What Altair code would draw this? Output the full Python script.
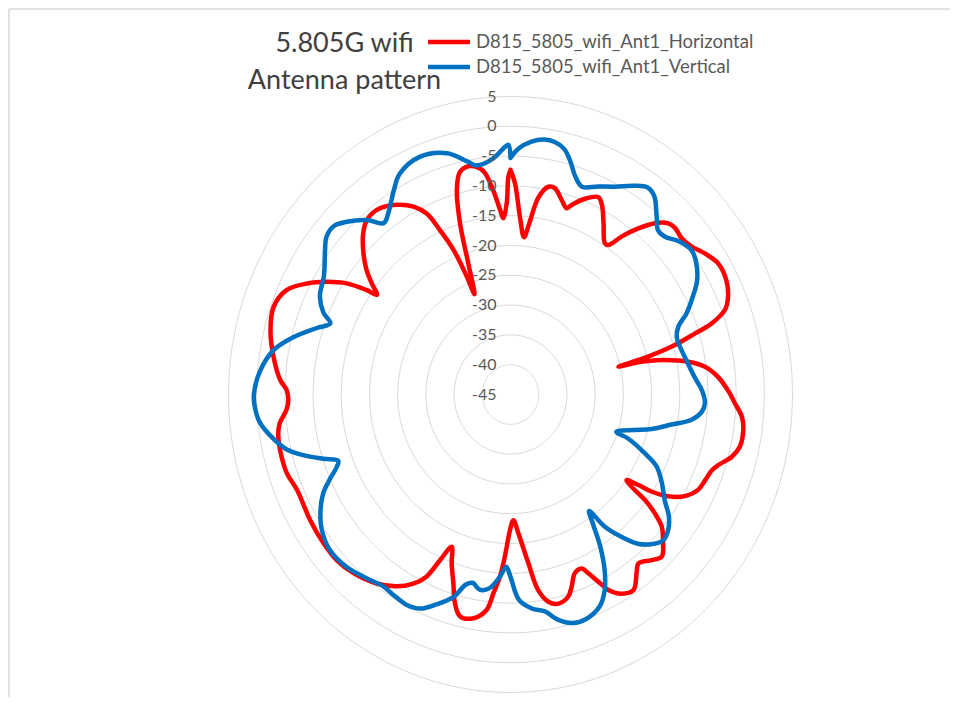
import altair as alt
import pandas as pd

# ---------------- data ----------------
title_lines = ["5.805G wifi", "Antenna pattern"]
series_names = ["D815_5805_wifi_Ant1_Horizontal", "D815_5805_wifi_Ant1_Vertical"]
series_colors = ["#FF0000", "#0070C0"]

ring_values = [5, 0, -5, -10, -15, -20, -25, -30, -35, -40, -45]
center_value = -45

# Horizontal (red): angle in degrees clockwise from top, level in dB
h_angle = [0, 1.3, 3.2, 5.2, 6.6, 8.5, 10.9, 12.8, 15.5, 17.7,
           18.8, 21.9, 25.2, 27, 29.9, 33.4, 34.7, 36.6, 39.1, 41.7,
           44.3, 46.3, 49.2, 52.3, 55.5, 59.2, 63.4, 67, 69.5, 71.5,
           72.6, 74.3, 75.4, 76.3, 76.6, 77.8, 80.1, 82.3, 85.4, 89.3,
           92.1, 95.2, 98.2, 102.1, 104.9, 107.8, 109.6, 112.6, 115.7, 118.9,
           121.4, 123.1, 123.8, 124.9, 125.8, 126.6, 127.9, 129.6, 132.7, 135.4,
           138, 141.3, 143.3, 146.4, 149.5, 152.1, 153.1, 155.3, 156.7, 159.2,
           161.4, 163.2, 166.4, 169.1, 171.5, 173.6, 176.6, 178.6, 180.2, 182.1,
           183.5, 185.2, 186.7, 189.9, 193.5, 195.7, 197.7, 200.2, 202.2, 204.2,
           206, 208.5, 212.1, 216.8, 222.9, 227.9, 233, 239.3, 247.1, 251.6,
           257.2, 261, 263.3, 266.3, 268.7, 271.1, 273.4, 278.6, 284.2, 289.3,
           293.8, 297.3, 300.1, 302.7, 304.5, 305.2, 307.2, 309.3, 312.8, 316,
           319, 322.6, 327.6, 331.4, 333.9, 335.6, 337.4, 338.6, 339.2, 341.2,
           342.7, 344.5, 346.5, 349.4, 351.9, 353.1, 354.9, 356.6, 357.5, 358.8,
           359.4]
h_db = [-7.3, -9.6, -15.1, -18.5, -16.1, -11.6, -9.5, -9.5, -11.1, -12.2,
        -11.4, -9.6, -8.4, -9.3, -11.9, -14.6, -14.5, -12.0, -9.1, -6.5,
        -4.9, -4.6, -4.9, -4.4, -3.2, -2.1, -2.2, -3.1, -4.4, -7.4,
        -10.7, -15.3, -19.8, -25.3, -21.7, -17.6, -13.0, -10.2, -8.1, -6.3,
        -5.2, -3.8, -3.3, -3.4, -4.4, -6.3, -7.1, -7.6, -8.1, -9.7,
        -12.2, -15.2, -17.7, -19.9, -18.5, -15.3, -12.6, -10.2, -8.2, -6.8,
        -7.6, -8.7, -7.6, -5.6, -6.2, -7.9, -9.2, -12.0, -13.2, -12.9,
        -11.0, -9.6, -8.9, -9.6, -11.8, -16.5, -21.7, -23.9, -22.3, -17.8,
        -14.4, -11.5, -8.6, -6.9, -6.7, -8.6, -11.7, -14.8, -17.4, -14.5,
        -11.0, -8.9, -7.0, -5.4, -4.1, -3.5, -3.5, -3.7, -3.9, -3.2,
        -3.1, -3.3, -3.8, -5.2, -5.6, -5.3, -4.1, -2.5, -1.1, -0.5,
        -1.6, -4.4, -7.3, -10.5, -14.1, -16.0, -14.1, -12.0, -9.4, -7.4,
        -6.2, -6.0, -7.3, -9.1, -11.2, -14.7, -18.7, -23.7, -27.0, -21.8,
        -14.9, -9.4, -6.6, -6.0, -6.7, -7.6, -10.6, -14.0, -15.4, -12.9,
        -8.5]

# Vertical (blue)
v_angle = [0, 2, 5, 8, 10.5, 13, 15, 17.5, 20, 24,
           28, 32, 35, 37.5, 41, 43.5, 46, 49, 53, 56,
           60, 63, 66.5, 69, 72, 75, 79.5, 85, 89, 92.5,
           95, 97.5, 100, 103, 105.5, 108.5, 109.5, 112.5, 115, 119,
           123, 126, 129, 132, 135, 138, 140.5, 143, 144.5, 146,
           148, 150.5, 153, 156, 160.5, 164, 167.5, 170.5, 174, 177.5,
           180, 181.5, 183.5, 186.5, 189.5, 192, 194, 196.5, 200.5, 204,
           207.5, 212, 215, 219.5, 225, 231, 236, 240, 243.5, 246,
           248.5, 250, 252, 254.5, 257, 260, 264, 267.5, 270, 275,
           280, 284, 288, 290.5, 292.5, 296, 301, 306.5, 309, 312,
           315, 319, 322, 325, 329, 332, 338, 344.5, 349, 351,
           355.5, 358.7, 359.5]
v_db = [-5.3, -3.7, -2.4, -1.8, -1.9, -2.7, -4.3, -6.7, -7.9, -6.8,
        -5.5, -3.7, -2.6, -3.1, -5.5, -7.0, -6.9, -5.7, -4.8, -5.3,
        -6.8, -8.7, -11.0, -13.1, -14.0, -13.9, -13.3, -12.2, -11.0, -10.5,
        -11.0, -12.6, -16.0, -19.3, -22.7, -25.2, -22.9, -19.2, -16.4, -14.3,
        -12.4, -10.3, -9.0, -8.5, -9.5, -11.3, -14.0, -17.2, -21.0, -18.9,
        -15.0, -11.1, -8.2, -6.1, -5.0, -5.1, -6.3, -8.1, -8.9, -10.5,
        -14.4, -16.1, -14.4, -12.3, -11.8, -12.7, -12.1, -9.6, -7.4, -5.7,
        -5.2, -5.5, -5.7, -5.0, -4.0, -3.7, -4.6, -6.1, -7.9, -9.9,
        -11.9, -12.5, -10.1, -6.9, -4.2, -2.3, -0.3, 0.4, 0.5, -0.4,
        -2.3, -5.3, -8.9, -10.9, -9.1, -7.4, -6.4, -4.1, -3.0, -2.8,
        -4.0, -6.2, -8.5, -7.4, -4.9, -3.1, -2.0, -3.0, -5.2, -6.1,
        -5.3, -3.4, -3.1]

# ---------------- tables ----------------
def series_frame(name, angles, values):
    df = pd.DataFrame({"angle": angles, "value": values})
    closing = df.iloc[[0]].copy()
    closing["angle"] = closing["angle"] + 360  # close the loop
    df = pd.concat([df, closing], ignore_index=True)
    df["series"] = name
    return df

lines_df = pd.concat([
    series_frame(series_names[0], h_angle, h_db),
    series_frame(series_names[1], v_angle, v_db),
], ignore_index=True)

grid_df = pd.DataFrame(
    [{"ring": r, "angle": a} for r in ring_values if r > center_value for a in range(0, 361, 2)]
)
label_df = pd.DataFrame({"ring": ring_values, "label": [str(r) for r in ring_values]})
legend_df = pd.DataFrame({"series": series_names, "color": series_colors})
title_df = pd.DataFrame({"line": title_lines})

# ---------------- layout ----------------
W, H = 564, 596
FONT = "Lato"
LIM = (ring_values[0] - center_value)
xs = alt.Scale(domain=[-LIM, LIM], nice=False, zero=False)
ys = alt.Scale(domain=[-LIM, LIM], nice=False, zero=False)

def polar(chart, field):
    r = f"(datum['{field}'] - ({center_value}))"
    return chart.transform_calculate(
        px=f"{r} * sin(datum.angle * PI / 180)",
        py=f"{r} * cos(datum.angle * PI / 180)",
    )

one = alt.Chart(title_df.head(1))
frame_top = one.mark_rule(color="#D9D9D9", strokeWidth=1.5).encode(
    x=alt.value(-219.5), x2=alt.value(730), y=alt.value(-87.5))
frame_left = one.mark_rule(color="#D9D9D9", strokeWidth=1.5).encode(
    x=alt.value(-219.5), y=alt.value(-87.5), y2=alt.value(620))

grid = polar(alt.Chart(grid_df), "ring").mark_line(
    color="#D9D9D9", strokeWidth=1
).encode(
    x=alt.X("px:Q", scale=xs, axis=None),
    y=alt.Y("py:Q", scale=ys, axis=None),
    detail="ring:N",
    order="angle:Q",
)

curves = polar(alt.Chart(lines_df), "value").mark_line(
    strokeWidth=4.5, strokeJoin="round", strokeCap="round", interpolate="catmull-rom"
).encode(
    x=alt.X("px:Q", scale=xs, axis=None),
    y=alt.Y("py:Q", scale=ys, axis=None),
    color=alt.Color("series:N", scale=alt.Scale(domain=series_names, range=series_colors), legend=None),
    detail="series:N",
    order="angle:Q",
)

labels = alt.Chart(label_df).transform_calculate(
    px="0", py=f"datum.ring - ({center_value})"
).mark_text(
    align="right", baseline="middle", dx=-14, font=FONT, fontSize=16, color="#595959"
).encode(
    x=alt.X("px:Q", scale=xs, axis=None),
    y=alt.Y("py:Q", scale=ys, axis=None),
    text="label:N",
)

layers = [frame_top, frame_left, grid, curves, labels]

# legend (manual, from series names)
for i, name in enumerate(series_names):
    base = alt.Chart(legend_df).transform_filter(alt.datum.series == name)
    layers.append(base.mark_rule(color=series_colors[i], strokeWidth=4.5).encode(
        x=alt.value(199.5), x2=alt.value(241.5), y=alt.value(-54.5 + 25 * i)))
    layers.append(base.mark_text(align="left", baseline="middle", font=FONT, fontSize=18.5,
                                 color="#595959").encode(
        x=alt.value(247.5), y=alt.value(-54.5 + 25 * i), text="series:N"))

# title lines
for i, line in enumerate(title_lines):
    layers.append(alt.Chart(title_df).transform_filter(alt.datum.line == line).mark_text(
        align="center", baseline="middle", font=FONT, fontSize=27, color="#404040"
    ).encode(x=alt.value(116), y=alt.value(-52.5 + 37 * i), text="line:N"))

chart = alt.layer(*layers).properties(
    width=W, height=H,
    background="white",
    autosize=alt.AutoSizeParams(type="none"),
    padding={"left": 220.5, "top": 88.5, "right": 157.5, "bottom": 4},
).configure_view(stroke=None)

chart.save("out.html", embed_options={"renderer": "svg", "actions": False})
